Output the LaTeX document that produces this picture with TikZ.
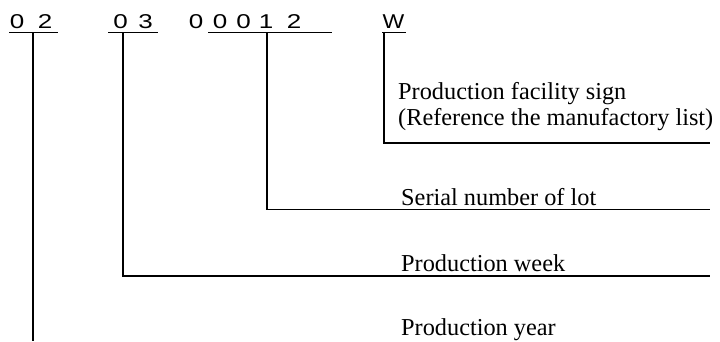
\documentclass[tikz,border=0pt]{standalone}
\usepackage{fontspec}
\setmainfont{Liberation Serif}
\newfontfamily\digitfont{Liberation Sans}
\newcommand{\wdig}[1]{\scalebox{1.3}[1]{#1}}
\begin{document}
\begin{tikzpicture}[x=1pt,y=-1pt,
  ln/.style={line width=1.6pt,line cap=butt},
  dg/.style={inner sep=0pt,anchor=base,font=\digitfont\fontsize{20}{20}\selectfont},
  lbl/.style={inner sep=0pt,anchor=base west,font=\fontsize{24.3}{26}\selectfont}]
\useasboundingbox (0,0) rectangle (720,341);
% code characters
\node[dg] (d1) at (17,28) {\wdig{0}};
\node[dg] (d2) at (45,28) {\wdig{2}};
\node[dg] (d3) at (120.5,28) {\wdig{0}};
\node[dg] (d4) at (145.5,28) {\wdig{3}};
\node[dg] (d5) at (196,28) {\wdig{0}};
\node[dg] (d6) at (220,28) {\wdig{0}};
\node[dg] (d7) at (243.5,28) {\wdig{0}};
\node[dg] (d8) at (266,28) {\wdig{1}};
\node[dg] (d9) at (294,28) {\wdig{2}};
\node[dg] (dw) at (393.5,28) {\scalebox{1.15}[1]{W}};
% labels
\node[lbl] (fac1) at (398,99.3) {Production facility sign};
\node[lbl] (fac2) at (398,125) {(Reference the manufactory list)};
\node[lbl] (ser) at (401,205) {Serial number of lot};
\node[lbl] (week) at (401,271.7) {Production week};
\node[lbl] (year) at (401,335) {Production year};
% underlines
\coordinate (u1a) at (9,32.5);   \coordinate (u1b) at (58,32.5);
\coordinate (u2a) at (108,32.5); \coordinate (u2b) at (158,32.5);
\coordinate (u3a) at (208,32.5); \coordinate (u3b) at (332,32.5);
\coordinate (u4a) at (382,32.5); \coordinate (u4b) at (406,32.5);
\draw[ln] (u1a) -- (u1b);
\draw[ln] (u2a) -- (u2b);
\draw[ln] (u3a) -- (u3b);
\draw[ln] (u4a) -- (u4b);
% leaders
\coordinate (t1) at (33,32.5);  \coordinate (e1) at (33,341);
\coordinate (t2) at (123,32.5); \coordinate (e2) at (710,275.7);
\coordinate (t3) at (267,32.5); \coordinate (e3) at (710,209.3);
\coordinate (t4) at (384,32.5); \coordinate (e4) at (710,142.7);
\draw[ln,line width=1.9pt] (t1) -- (e1);
\draw[ln] (t2) |- (e2);
\draw[ln] (t3) |- (e3);
\draw[ln] (t4) |- (e4);
\end{tikzpicture}
\end{document}
